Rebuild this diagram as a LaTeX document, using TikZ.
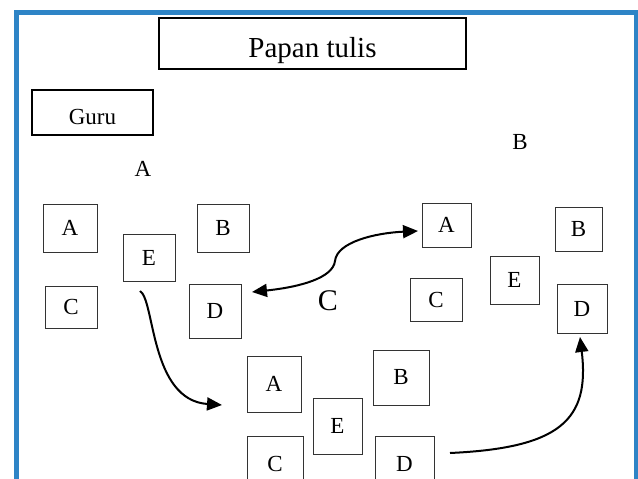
\documentclass[tikz,border=0pt]{standalone}
\usepackage{fontspec}
\setmainfont{Liberation Serif}
\usepackage{xcolor}
\usetikzlibrary{arrows.meta}
\definecolor{frameblue}{RGB}{46,132,198}
\tikzset{
  board/.style={draw=black, line width=1.6pt, inner sep=0pt, outer sep=0pt},
  seat/.style={draw=black!80, line width=1pt, inner sep=0pt, outer sep=0pt,
    font=\fontsize{23}{26}\selectfont},
  grp/.style={font=\fontsize{23}{26}\selectfont},
  movearrow/.style={-{Triangle[length=15pt,width=13pt]}, line width=2pt},
  tradearrow/.style={{Triangle[length=15pt,width=13pt]}-{Triangle[length=15pt,width=13pt]}, line width=2pt}
}

\begin{document}
\begin{tikzpicture}[x=1pt, y=-1pt]
  \clip (0,0) rectangle (638,479);
  \draw[frameblue, line width=4.5pt] (16.5,12.5) rectangle (636.5,530);

  % papan tulis dan guru
  \node[board, minimum width=307pt, minimum height=51pt, text height=33pt,
    text depth=6pt, font=\fontsize{29}{32}\selectfont] (papan) at (312.5,43.5) {Papan tulis};
  \node[board, minimum width=121pt, minimum height=45pt, text height=23pt,
    text depth=0pt, font=\fontsize{23}{26}\selectfont] (guru) at (92.5,112.5) {Guru};

  \node[grp] (labA) at (143,169) {A};
  \node[grp] (labB) at (520,142) {B};

  % kelompok A
  \node[seat, minimum width=54pt, minimum height=48pt] (aA) at (70,228) {A};
  \node[seat, minimum width=52pt, minimum height=48pt] (aB) at (223,228) {B};
  \node[seat, minimum width=52pt, minimum height=47pt] (aE) at (149,257.5) {E};
  \node[seat, minimum width=52pt, minimum height=42pt] (aC) at (71,307) {C};
  \node[seat, minimum width=52pt, minimum height=54pt] (aD) at (215,311) {D};

  % kelompok B
  \node[seat, minimum width=49pt, minimum height=44pt] (bA) at (446.5,225) {A};
  \node[seat, minimum width=47pt, minimum height=44pt] (bB) at (578.5,229) {B};
  \node[seat, minimum width=49pt, minimum height=48pt] (bE) at (514.5,280) {E};
  \node[seat, minimum width=52pt, minimum height=43pt] (bC) at (436,299.5) {C};
  \node[seat, minimum width=50pt, minimum height=49pt] (bD) at (582,308.5) {D};

  % kelompok C
  \node[seat, minimum width=54pt, minimum height=56pt] (cA) at (274,384) {A};
  \node[seat, minimum width=56pt, minimum height=55pt] (cB) at (401,377.5) {B};
  \node[seat, minimum width=49pt, minimum height=56pt] (cE) at (337.5,426) {E};
  \node[seat, minimum width=56pt, minimum height=56pt] (cC) at (275,464) {C};
  \node[seat, minimum width=59pt, minimum height=56pt] (cD) at (404.5,464) {D};

  % perpindahan
  \coordinate (bend) at (335,261);
  \draw[movearrow] ([xshift=-9pt,yshift=-10pt]aE.south)
    .. controls +(15,9) and +(-72,-5) .. ([xshift=-25pt,yshift=-21pt]cA.west);
  \draw[tradearrow] ([xshift=11pt,yshift=19pt]aD.east)
    .. controls +(48,-5) and +(-2,17) .. (bend)
    .. controls +(2,-19) and +(-43,2) .. ([xshift=-4pt,yshift=-6pt]bA.west);
  \node[font=\fontsize{30}{33}\selectfont] (labC) at (328,301) {C};
  \draw[movearrow] ([xshift=16pt,yshift=11pt]cD.east)
    .. controls +(110,-5) and +(10,83) .. ([xshift=-2pt,yshift=-4pt]bD.south);
\end{tikzpicture}
\end{document}
